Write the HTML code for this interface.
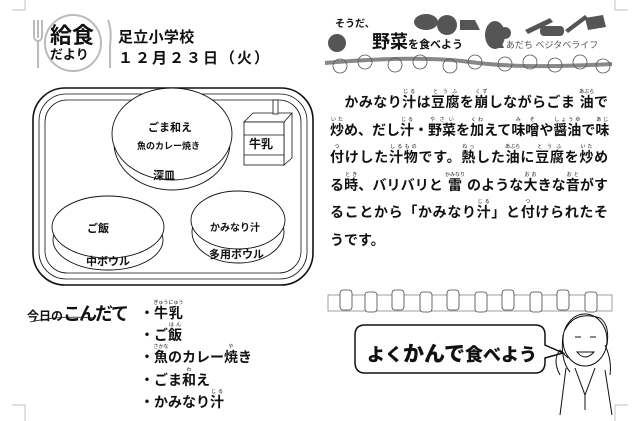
<!DOCTYPE html>
<html><head><meta charset="utf-8"><style>
body{margin:0;width:640px;height:421px;background:#fff;position:relative;overflow:hidden;font-family:"Liberation Sans","Noto Sans CJK JP",sans-serif;color:#111}
.a{position:absolute;white-space:nowrap}
.t{font-weight:bold;font-size:14px;letter-spacing:0.3px}
.r{position:absolute;left:330px;width:278px;font-size:14px;font-weight:bold;top:89px}
.r div{height:27.5px;line-height:27.5px;white-space:nowrap;text-align:justify;text-align-last:justify}
rt{font-size:5px;font-weight:normal}
.li{font-size:14px;font-weight:bold}
</style></head><body>
<svg width="640" height="421" style="position:absolute;left:0;top:0" fill="none" stroke="#111">
<path d="M12 10H25V0M615 0V10H628M25 421V405H12M615 421V405H628" stroke="#aaa" stroke-width="0.7"/>
<circle cx="73" cy="43" r="28" stroke="#bbb" stroke-width="2"/>
<path d="M34 20V38M38 20V38M42 20V38M34 38Q38 44 42 38M38 40V68" stroke="#bbb" stroke-width="2"/>
<path d="M108 20Q112 30 110 45V68" stroke="#bbb" stroke-width="2"/>
<rect x="33" y="88" width="280" height="197" rx="32" stroke-width="1.6"/>
<rect x="39" y="94" width="268" height="185" rx="27" stroke-width="0.8"/>
<rect x="45" y="100" width="256" height="173" rx="22" stroke-width="0.8"/>
<ellipse cx="172" cy="143" rx="58" ry="47" fill="#fff" stroke-width="0.9"/>
<ellipse cx="172" cy="134" rx="60" ry="46" fill="#fff" stroke-width="0.9"/>
<path d="M244 122L253 113H292L284 122Z M284 122V165L292 158V113" fill="#fff" stroke-width="0.8"/>
<rect x="244" y="122" width="40" height="43" fill="#fff" stroke-width="0.8"/>
<path d="M244 135H284M244 155H284" stroke-width="0.8"/>
<rect x="273" y="100" width="5" height="14" fill="#fff" stroke-width="0.8"/>
<ellipse cx="108" cy="240" rx="55" ry="30" fill="#fff" stroke-width="0.9"/>
<ellipse cx="108" cy="227" rx="56" ry="31" fill="#fff" stroke-width="0.9"/>
<ellipse cx="238" cy="232" rx="46" ry="31" fill="#fff" stroke-width="0.9"/>
<ellipse cx="238" cy="220" rx="47" ry="29" fill="#fff" stroke-width="0.9"/>
<g fill="#555" stroke="none">
<circle cx="337" cy="43" r="9"/><ellipse cx="426" cy="22" rx="12" ry="8"/><circle cx="447" cy="25" r="10"/>
<path d="M460 20h15l5 10h-20z"/><ellipse cx="495" cy="35" rx="10" ry="14"/><circle cx="505" cy="33" r="6"/>
<path d="M525 30l25-12 3 4-25 12z"/><rect x="540" y="26" width="24" height="10" rx="4"/>
<path d="M565 30l20-15 3 3-20 15z"/><path d="M585 18l18-3 3 12-18 3z"/>
</g>
<path d="M325 63Q420 55 470 62T612 64" stroke="#888" stroke-width="4"/>
<g stroke="#555" stroke-width="0.8">
<circle cx="340" cy="66" r="7"/><circle cx="365" cy="62" r="7"/><circle cx="395" cy="65" r="7"/><circle cx="420" cy="62" r="7"/><circle cx="450" cy="66" r="7"/><circle cx="475" cy="62" r="7"/><circle cx="505" cy="64" r="7"/><circle cx="530" cy="62" r="7"/><circle cx="555" cy="65" r="7"/><circle cx="580" cy="62" r="7"/><circle cx="603" cy="66" r="7"/>
</g>
<rect x="328" y="295" width="284" height="16" stroke="#888" stroke-width="0.8"/>
<g stroke="#444" stroke-width="0.8" fill="#fff">
<rect x="340" y="290" width="12" height="20" rx="3"/><rect x="365" y="292" width="12" height="20" rx="3"/><rect x="392" y="290" width="12" height="20" rx="3"/><rect x="420" y="292" width="12" height="20" rx="3"/><rect x="447" y="290" width="12" height="20" rx="3"/><rect x="475" y="292" width="12" height="20" rx="3"/><rect x="502" y="290" width="12" height="20" rx="3"/><rect x="530" y="292" width="12" height="20" rx="3"/><rect x="557" y="290" width="12" height="20" rx="3"/><rect x="585" y="292" width="12" height="20" rx="3"/>
</g>
<path d="M365 325H535Q545 325 545 335V345L563 353L545 358V362Q545 373 535 373H365Q355 373 355 362V335Q355 325 365 325Z" stroke-width="1.5" fill="#fff"/>
<g stroke-width="1">
<ellipse cx="585" cy="340" rx="22" ry="26"/>
<path d="M565 330Q575 310 600 318Q610 325 607 345M563 335Q560 360 570 372M605 345Q612 360 610 375"/>
<path d="M575 337h6M590 337h6M577 352Q585 362 594 352Z"/>
<path d="M566 368L560 415M605 370L612 415M575 368L585 395L595 368M585 395V410"/>
<path d="M560 375Q552 360 560 350L568 358"/>
</g>
<path d="M30 322Q60 315 95 318" stroke-width="0.8"/>
</svg>
<div class="a" style="left:50px;top:18px;font-size:22px;font-weight:bold">給食</div>
<div class="a" style="left:50px;top:44px;font-size:13px;font-weight:bold">だより</div>
<div class="a t" style="left:118px;top:26px;font-size:15px">足立小学校</div>
<div class="a t" style="left:118px;top:47px;font-size:15px;letter-spacing:2px">１２月２３日（火）</div>
<div class="a" style="left:148px;top:119px;font-size:11px;font-weight:bold">ごま和え</div>
<div class="a" style="left:137px;top:139px;font-size:9px;font-weight:bold">魚のカレー焼き</div>
<div class="a" style="left:153px;top:167px;font-size:11px;font-weight:bold">深皿</div>
<div class="a" style="left:249px;top:135px;font-size:12px;font-weight:bold">牛乳</div>
<div class="a" style="left:87px;top:220px;font-size:11px;font-weight:bold">ご飯</div>
<div class="a" style="left:86px;top:253px;font-size:11px;font-weight:bold">中ボウル</div>
<div class="a" style="left:210px;top:219px;font-size:10px;font-weight:bold">かみなり汁</div>
<div class="a" style="left:209px;top:246px;font-size:11px;font-weight:bold">多用ボウル</div>
<div class="a" style="left:335px;top:15px;font-size:10px;font-weight:bold">そうだ、</div>
<div class="a" style="left:372px;top:28px;font-size:18px;font-weight:bold">野菜<span style="font-size:11px">を食べよう</span></div>
<div class="a" style="left:497px;top:38px;font-size:9px;color:#555">▲あだち ベジタベライフ</div>
<div class="r">
<div>　かみなり<ruby>汁<rt>じる</rt></ruby>は<ruby>豆腐<rt>とうふ</rt></ruby>を<ruby>崩<rt>くず</rt></ruby>しながらごま <ruby>油<rt>あぶら</rt></ruby>で</div>
<div><ruby>炒<rt>いた</rt></ruby>め、だし<ruby>汁<rt>じる</rt></ruby>・<ruby>野菜<rt>やさい</rt></ruby>を<ruby>加<rt>くわ</rt></ruby>えて<ruby>味噌<rt>みそ</rt></ruby>や<ruby>醤油<rt>しょうゆ</rt></ruby>で<ruby>味<rt>あじ</rt></ruby></div>
<div><ruby>付<rt>つ</rt></ruby>けした<ruby>汁物<rt>しるもの</rt></ruby>です。<ruby>熱<rt>ねっ</rt></ruby>した<ruby>油<rt>あぶら</rt></ruby>に<ruby>豆腐<rt>とうふ</rt></ruby>を<ruby>炒<rt>いた</rt></ruby>め</div>
<div>る<ruby>時<rt>とき</rt></ruby>、バリバリと <ruby>雷<rt>かみなり</rt></ruby> のような<ruby>大<rt>おお</rt></ruby>きな<ruby>音<rt>おと</rt></ruby>がす</div>
<div>ることから「かみなり<ruby>汁<rt>じる</rt></ruby>」と<ruby>付<rt>つ</rt></ruby>けられたそ</div>
<div style="text-align:left;text-align-last:left">うです。</div>
</div>
<div class="a" style="left:27px;top:300px;font-size:12px;font-weight:bold">今日の<span style="font-size:18px;letter-spacing:-2px">こんだて</span></div>
<div class="a li" style="left:140px;top:300px">・<ruby>牛乳<rt>ぎゅうにゅう</rt></ruby></div>
<div class="a li" style="left:140px;top:322px">・ご<ruby>飯<rt>はん</rt></ruby></div>
<div class="a li" style="left:140px;top:344px">・<ruby>魚<rt>さかな</rt></ruby>のカレー<ruby>焼<rt>や</rt></ruby>き</div>
<div class="a li" style="left:140px;top:367px">・ごま<ruby>和<rt>わ</rt></ruby>え</div>
<div class="a li" style="left:140px;top:389px">・かみなり<ruby>汁<rt>じる</rt></ruby></div>
<div class="a" style="left:367px;top:338px;font-size:18px;font-weight:900">よく<span style="font-size:21px">かんで</span>食べよう</div>
</body></html>
